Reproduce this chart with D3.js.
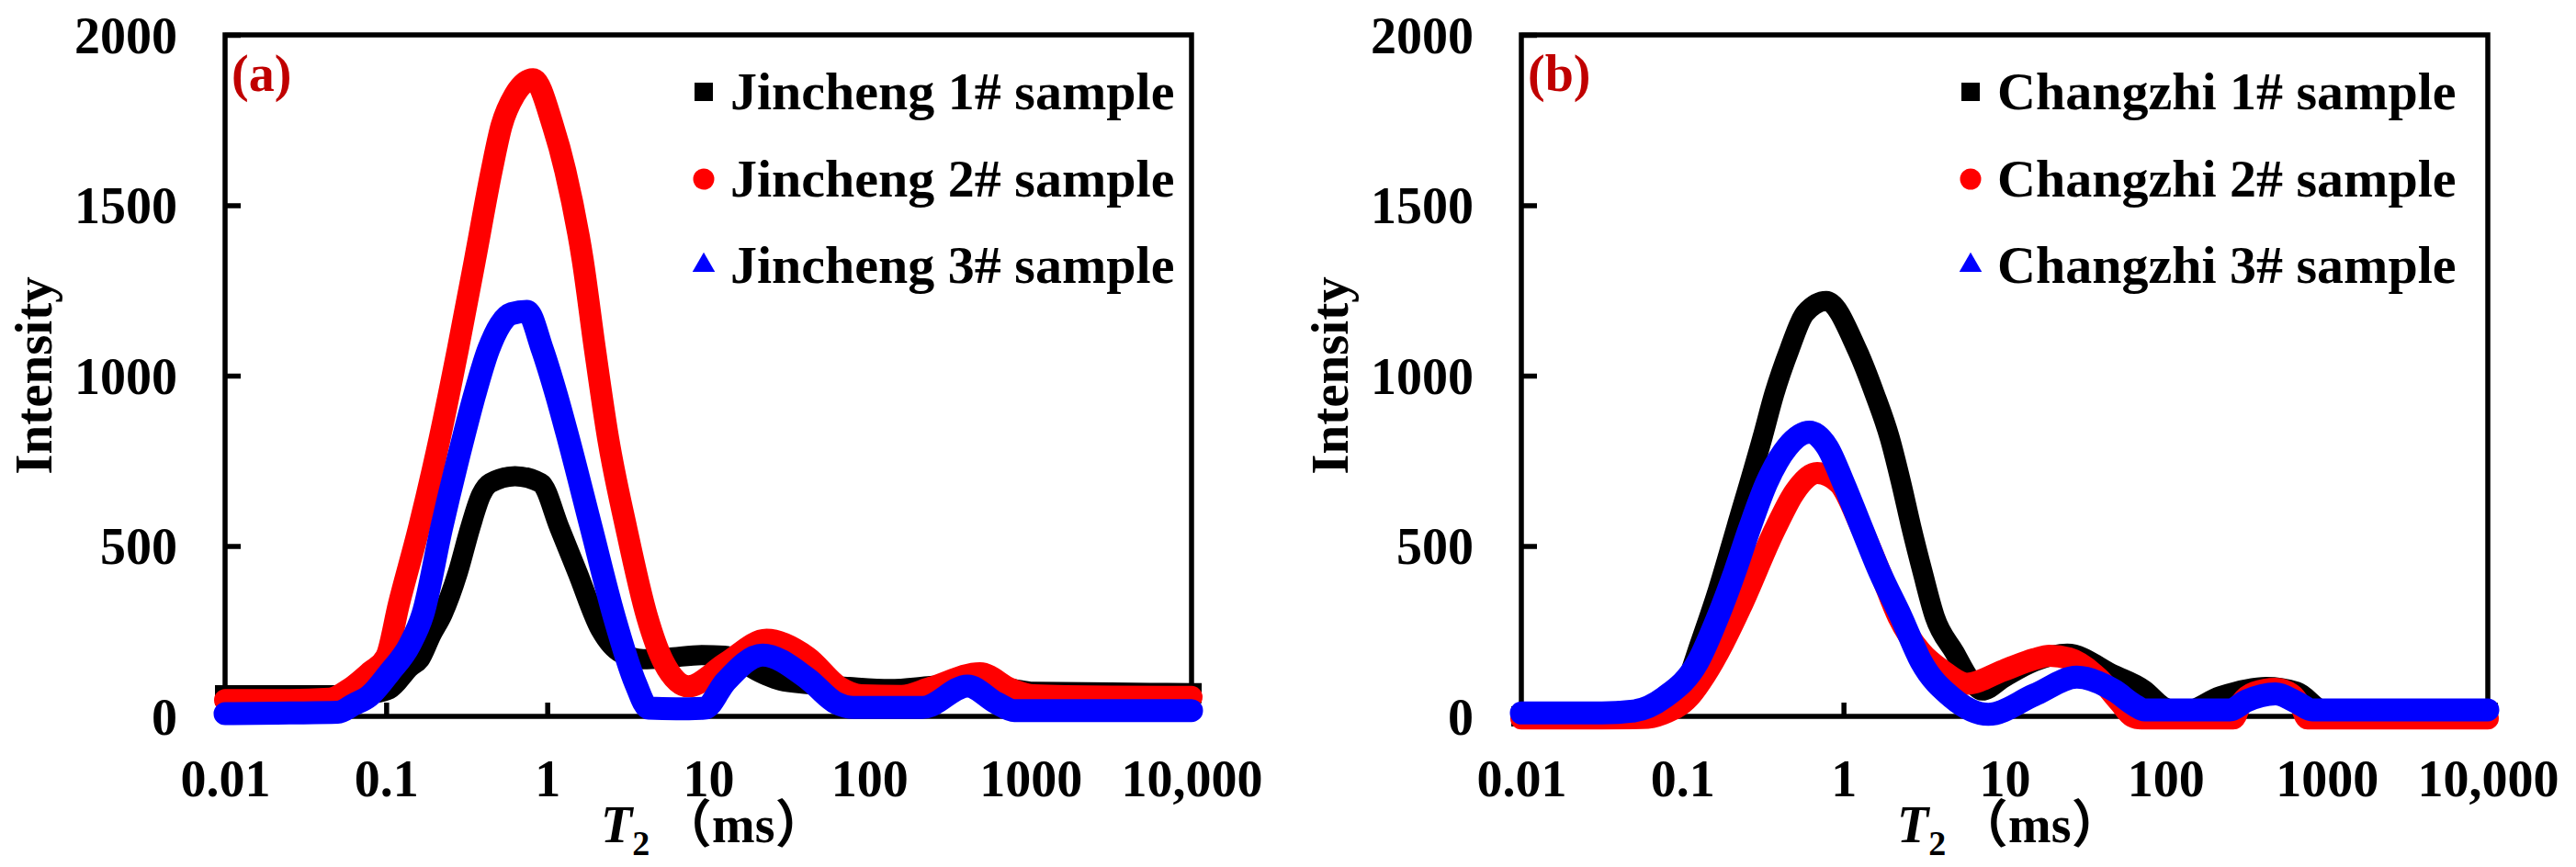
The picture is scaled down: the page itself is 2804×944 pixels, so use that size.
<!DOCTYPE html>
<html>
<head>
<meta charset="utf-8">
<title>T2 spectra</title>
<script src="https://cdn.jsdelivr.net/npm/d3@7"></script>
<style>
    body { margin: 0; background: #ffffff; }
    svg { display: block; }
</style>
</head>
<body>
<svg id="chart" width="2804" height="944"></svg>
<script>
// Axis ticks
const xTickValues = [0.01, 0.1, 1, 10, 100, 1000, 10000];
const xTickLabels = ['0.01', '0.1', '1', '10', '100', '1000', '10,000'];
const yTickValues = [0, 500, 1000, 1500, 2000];

// (a) Jincheng samples -- T2 (ms) and intensity
const jc1T2  = [0.01, 0.025, 0.05, 0.079, 0.105, 0.141, 0.162, 0.191, 0.224, 0.279, 0.333, 0.389, 0.443, 0.631, 0.912, 1.19, 1.54, 2.14, 2.88, 3.95, 5.62, 9.12, 12.6, 21.7, 28.2, 41.3, 74.3, 134, 240, 380, 579, 794, 1042, 3162, 10000];
const jc1Int = [62, 62, 62, 66, 80, 145, 168, 240, 300, 423, 554, 650, 685, 705, 685, 554, 423, 255, 185, 168, 172, 180, 178, 125, 105, 95, 86, 80, 89, 96, 92, 80, 72, 70, 68];

const jc2T2  = [0.01, 0.025, 0.0447, 0.0589, 0.0794, 0.1, 0.12, 0.16, 0.215, 0.279, 0.356, 0.452, 0.52, 0.628, 0.817, 1.086, 1.294, 1.66, 1.977, 2.388, 3.09, 4.17, 5.25, 7.53, 12.8, 23, 41.3, 66, 89, 158, 240, 486, 759, 1047, 3162, 10000];
const jc2Int = [48, 48, 52, 80, 130, 175, 330, 554, 816, 1078, 1340, 1602, 1733, 1824, 1870, 1733, 1602, 1340, 1078, 816, 554, 292, 161, 88, 156, 225, 174, 84, 62, 60, 84, 127, 80, 62, 58, 57];

const jc3T2  = [0.01, 0.025, 0.05, 0.063, 0.0787, 0.105, 0.14, 0.169, 0.221, 0.301, 0.356, 0.433, 0.601, 0.748, 0.931, 1.135, 1.352, 1.875, 2.606, 3.54, 4.27, 6.31, 9.48, 12.8, 21.7, 41.3, 62.4, 79.4, 214, 407, 617, 794, 10000];
const jc3Int = [8, 10, 12, 35, 60, 129, 210, 300, 554, 816, 947, 1078, 1182, 1189, 1078, 947, 816, 554, 292, 96, 24, 22, 24, 102, 180, 111, 39, 26, 26, 89, 39, 17, 17];

// (b) Changzhi samples
const cz1T2  = [0.01, 0.0316, 0.063, 0.0794, 0.102, 0.129, 0.166, 0.216, 0.313, 0.372, 0.463, 0.577, 0.782, 1.21, 1.56, 1.94, 2.28, 2.64, 3.10, 3.69, 4.90, 6.10, 7.26, 10, 15.3, 24.5, 47.5, 73.6, 95.5, 126, 219, 422, 653, 968, 1259, 10000];
const cz1Int = [0, 0, 3, 15, 81, 216, 370, 554, 816, 947, 1078, 1183, 1219, 1078, 947, 816, 685, 554, 423, 292, 187, 109, 76, 115, 161, 184, 122, 77, 30, 12, 59, 86, 72, 15, 10, 10];

const cz2T2  = [0.01, 0.0316, 0.0562, 0.0759, 0.11, 0.138, 0.18, 0.23, 0.38, 0.50, 0.687, 0.933, 1.29, 1.70, 2.19, 3.02, 4.11, 5.83, 9.86, 15.3, 19.0, 25.1, 38.2, 51.9, 61.7, 70.8, 263, 295, 355, 481, 603, 692, 759, 10000];
const cz2Int = [-6, -6, -5, 8, 56, 120, 216, 320, 554, 660, 714, 685, 554, 420, 292, 190, 135, 96, 135, 168, 178, 170, 113, 41, 1, -6, -6, 40, 70, 81, 65, 30, -6, -6];

const cz3T2  = [0.01, 0.0316, 0.05, 0.0773, 0.125, 0.166, 0.211, 0.262, 0.333, 0.447, 0.615, 0.794, 1.0, 1.294, 1.679, 2.28, 3.03, 4.69, 7.93, 15.3, 28.1, 47.5, 64.6, 74.1, 251, 316, 481, 653, 813, 10000];
const cz3Int = [10, 10, 16, 56, 161, 292, 423, 554, 685, 790, 834, 790, 685, 554, 423, 292, 161, 56, 6, 63, 115, 77, 32, 19, 19, 45, 66, 41, 19, 19];

const seriesColors = ['#000000', '#ff0000', '#0000ff'];
const seriesShapes = ['square', 'circle', 'triangle'];
const bandWidths = [22, 24, 25];

const panels = [
    {
        left: 245, tag: '(a)', legendX: 766,
        labels: ['Jincheng 1# sample', 'Jincheng 2# sample', 'Jincheng 3# sample'],
        series: [[jc1T2, jc1Int], [jc2T2, jc2Int], [jc3T2, jc3Int]]
    },
    {
        left: 1656, tag: '(b)', legendX: 2145,
        labels: ['Changzhi 1# sample', 'Changzhi 2# sample', 'Changzhi 3# sample'],
        series: [[cz1T2, cz1Int], [cz2T2, cz2Int], [cz3T2, cz3Int]]
    }
];

const serif = '"Times New Roman", "Liberation Serif", "Noto Sans CJK SC", serif';
const plotTop = 38, plotW = 1052, plotH = 742;
const svg = d3.select('#chart');

svg.append('rect').attr('width', 2804).attr('height', 944).attr('fill', '#ffffff');

function drawPanel(p) {
    const bottom = plotTop + plotH;
    const x = d3.scaleLog().domain([0.01, 10000]).range([p.left, p.left + plotW]);
    const y = d3.scaleLinear().domain([0, 2000]).range([bottom, plotTop]);

    const g = svg.append('g');

    // frame
    g.append('rect')
        .attr('x', p.left).attr('y', plotTop)
        .attr('width', plotW).attr('height', plotH)
        .attr('fill', 'none').attr('stroke', '#000').attr('stroke-width', 5.5);

    // x axis, ticks pointing inward
    g.append('g')
        .attr('transform', `translate(0,${bottom})`)
        .call(d3.axisBottom(x).tickValues(xTickValues).tickFormat((d, i) => xTickLabels[i]).tickSize(-15))
        .call(a => a.select('.domain').remove())
        .call(a => a.selectAll('.tick line').attr('stroke', '#000').attr('stroke-width', 5.5))
        .call(a => a.selectAll('.tick text')
            .attr('y', 87).attr('dy', null)
            .attr('fill', '#000')
            .attr('font-size', 56).attr('font-weight', 'bold').attr('font-family', serif));

    // y axis
    g.append('g')
        .attr('transform', `translate(${p.left},0)`)
        .call(d3.axisLeft(y).tickValues(yTickValues).tickFormat(d3.format('d')).tickSize(-17))
        .call(a => a.select('.domain').remove())
        .call(a => a.selectAll('.tick line').attr('stroke', '#000').attr('stroke-width', 5.5))
        .call(a => a.selectAll('.tick text')
            .attr('x', -52).attr('dy', '0.34em')
            .attr('fill', '#000')
            .attr('font-size', 56).attr('font-weight', 'bold').attr('font-family', serif));

    // axis titles
    g.append('text')
        .attr('transform', `translate(${p.left - 189},${(plotTop + bottom) / 2}) rotate(-90)`)
        .attr('text-anchor', 'middle')
        .attr('font-size', 57).attr('font-weight', 'bold').attr('font-family', serif)
        .text('Intensity');

    // T2 symbol and the unit kept as two separate texts
    const xt = g.append('text')
        .attr('x', p.left + 409).attr('y', 917)
        .attr('font-size', 56).attr('font-weight', 'bold').attr('font-family', serif);
    xt.append('tspan').attr('font-style', 'italic').text('T');
    xt.append('tspan').attr('font-size', 38).attr('dy', 14).text('2');

    g.append('text')
        .attr('x', p.left + 474).attr('y', 917)
        .attr('font-size', 56).attr('font-weight', 'bold').attr('font-family', serif)
        .text('（ms）');

    // thick bands standing in for the dense marker runs
    const line = d3.line()
        .x(d => x(d[0]))
        .y(d => y(d[1]))
        .curve(d3.curveMonotoneX);

    p.series.forEach(([t2, vals], i) => {
        g.append('path')
            .datum(d3.zip(t2, vals))
            .attr('d', line)
            .attr('fill', 'none')
            .attr('stroke', seriesColors[i])
            .attr('stroke-width', bandWidths[i])
            .attr('stroke-linejoin', 'round')
            .attr('stroke-linecap', i === 0 ? 'square' : 'round');
    });

    // panel tag
    g.append('text')
        .attr('x', p.left + 7).attr('y', 99)
        .attr('fill', '#c00000')
        .attr('font-size', 56).attr('font-weight', 'bold').attr('font-family', serif)
        .text(p.tag);

    // legend
    const rowY = [100, 195, 289];
    const symbolType = { square: d3.symbolSquare, circle: d3.symbolCircle, triangle: d3.symbolTriangle };
    const symbolSize = { square: 400, circle: 415, triangle: 260 };
    p.labels.forEach((label, i) => {
        const shape = seriesShapes[i];
        g.append('path')
            .attr('transform', `translate(${p.legendX},${rowY[i]})`)
            .attr('d', d3.symbol(symbolType[shape], symbolSize[shape])())
            .attr('fill', seriesColors[i]);
        g.append('text')
            .attr('x', p.legendX + 29).attr('y', rowY[i] + 19)
            .attr('font-size', 58).attr('font-weight', 'bold').attr('font-family', serif)
            .text(label);
    });
}

panels.forEach(drawPanel);
</script>
</body>
</html>
